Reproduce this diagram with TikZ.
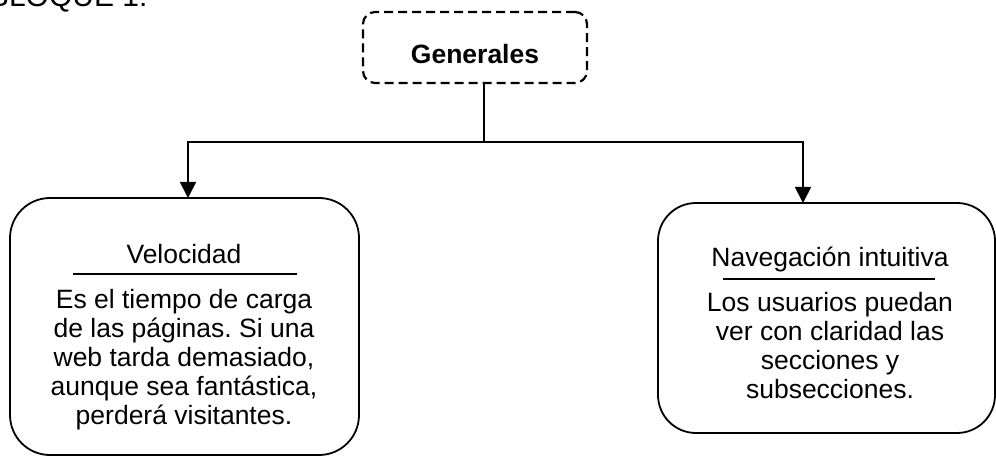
\documentclass[tikz,border=0pt]{standalone}
\usepackage{fontspec}
\setmainfont{Liberation Sans}
\usetikzlibrary{arrows.meta}
\frenchspacing
\begin{document}
\begin{tikzpicture}[x=1pt,y=-1pt,line width=1.8pt,
    every node/.style={inner sep=0pt, outer sep=0pt, font=\fontsize{26.5}{29}\selectfont},
    box/.style={draw, rounded corners=40pt},
    dashbox/.style={draw, dash pattern=on 9pt off 5pt, line width=2.2pt, rounded corners=12pt, minimum width=224pt, minimum height=71pt},
    arr/.style={-{Triangle[width=16pt,length=16pt]}}]
    \useasboundingbox (0,0) rectangle (996,457);
    \node[anchor=base west, font=\fontsize{30}{34}\selectfont] (bloque) at (-11,7) {BLOQUE 1:};
    \node[dashbox] (gen) at (475,47.5) {};
    \node[anchor=base, font=\fontsize{26.5}{29}\selectfont\bfseries] (genT) at (475,64) {Generales};
    \node[box, minimum width=349pt, minimum height=257pt] (vel) at (184.5,326.5) {};
    \node[box, rounded corners=38pt, minimum width=337pt, minimum height=230pt] (nav) at (826.5,318) {};
    \coordinate (jc) at (484,142);
    \coordinate (jl) at (188,142);
    \coordinate (jr) at (803,142);
    \draw (gen.south -| jc) -- (jc);
    \draw[arr] (jc) -| (jl |- vel.north);
    \draw[arr] (jc) -| (jr |- nav.north);
    \node[anchor=base] (velT) at (184,263) {Velocidad};
    \draw[line width=1.5pt] (73,274) -- (297,274);
    \node[anchor=base, align=center] (velB) at (184,424) {Es el tiempo de carga\\de las páginas. Si una\\web tarda demasiado,\\aunque sea fantástica,\\perderá visitantes.};
    \node[anchor=base] (navT) at (830,266) {Navegación intuitiva};
    \draw[line width=1.5pt] (723,279) -- (935,279);
    \node[anchor=base, align=center] (navB) at (830,398) {Los usuarios puedan\\ver con claridad las\\secciones y\\subsecciones.};
\end{tikzpicture}
\end{document}
